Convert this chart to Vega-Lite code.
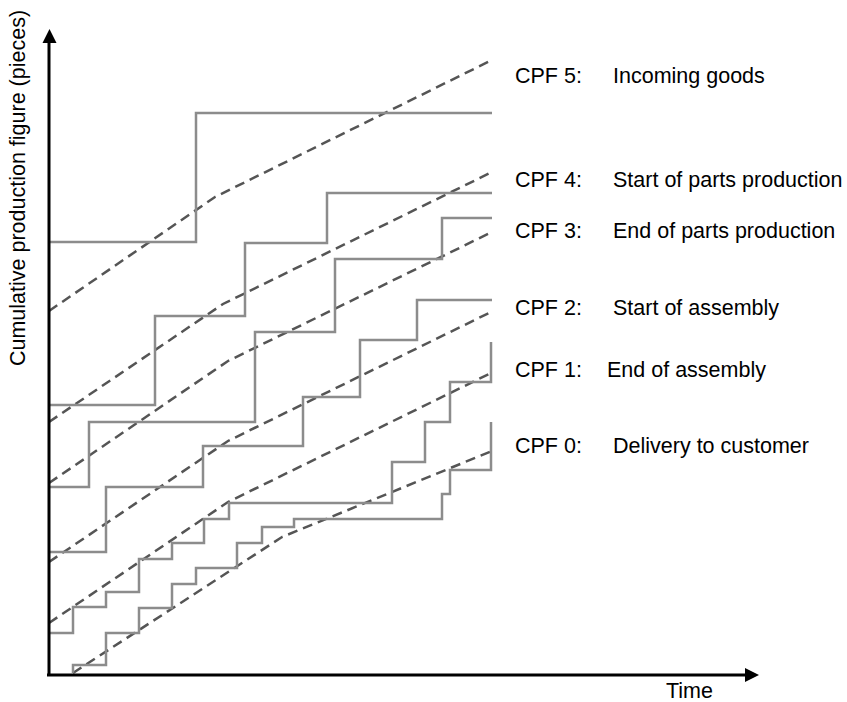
{
  "$schema": "https://vega.github.io/schema/vega-lite/v6.json",
  "width": 847,
  "height": 702,
  "autosize": {"type": "none"},
  "padding": 0,
  "background": "white",
  "config": {"view": {"stroke": null}},
  "datasets": {
    "steps": [
      {"series": "CPF5", "t": 0, "q": 433}, {"series": "CPF5", "t": 147, "q": 562}, {"series": "CPF5", "t": 443, "q": 562},
      {"series": "CPF4", "t": 0, "q": 270}, {"series": "CPF4", "t": 106, "q": 359}, {"series": "CPF4", "t": 196, "q": 432}, {"series": "CPF4", "t": 278, "q": 482}, {"series": "CPF4", "t": 443, "q": 482},
      {"series": "CPF3", "t": 0, "q": 188}, {"series": "CPF3", "t": 40, "q": 253}, {"series": "CPF3", "t": 206, "q": 343}, {"series": "CPF3", "t": 286, "q": 416}, {"series": "CPF3", "t": 393, "q": 457}, {"series": "CPF3", "t": 443, "q": 457},
      {"series": "CPF2", "t": 0, "q": 123}, {"series": "CPF2", "t": 57, "q": 188}, {"series": "CPF2", "t": 154, "q": 229}, {"series": "CPF2", "t": 254, "q": 278}, {"series": "CPF2", "t": 311, "q": 335}, {"series": "CPF2", "t": 368, "q": 375}, {"series": "CPF2", "t": 443, "q": 375},
      {"series": "CPF1", "t": 0, "q": 42}, {"series": "CPF1", "t": 24, "q": 68}, {"series": "CPF1", "t": 57, "q": 83}, {"series": "CPF1", "t": 90, "q": 116}, {"series": "CPF1", "t": 123, "q": 132}, {"series": "CPF1", "t": 155, "q": 156}, {"series": "CPF1", "t": 180, "q": 172}, {"series": "CPF1", "t": 343, "q": 213}, {"series": "CPF1", "t": 376, "q": 253}, {"series": "CPF1", "t": 401, "q": 293}, {"series": "CPF1", "t": 442, "q": 333},
      {"series": "CPF0", "t": 24, "q": 2}, {"series": "CPF0", "t": 24, "q": 10}, {"series": "CPF0", "t": 57, "q": 42}, {"series": "CPF0", "t": 90, "q": 67}, {"series": "CPF0", "t": 123, "q": 91}, {"series": "CPF0", "t": 147, "q": 107}, {"series": "CPF0", "t": 188, "q": 132}, {"series": "CPF0", "t": 213, "q": 148}, {"series": "CPF0", "t": 245, "q": 156}, {"series": "CPF0", "t": 393, "q": 181}, {"series": "CPF0", "t": 401, "q": 205}, {"series": "CPF0", "t": 442, "q": 253}
    ],
    "plan": [
      {"series": "CPF5", "t": 0, "q": 364}, {"series": "CPF5", "t": 166, "q": 478}, {"series": "CPF5", "t": 443, "q": 615},
      {"series": "CPF4", "t": 0, "q": 253}, {"series": "CPF4", "t": 174, "q": 371}, {"series": "CPF4", "t": 443, "q": 503},
      {"series": "CPF3", "t": 0, "q": 192}, {"series": "CPF3", "t": 179, "q": 314}, {"series": "CPF3", "t": 443, "q": 443},
      {"series": "CPF2", "t": 0, "q": 113}, {"series": "CPF2", "t": 179, "q": 234}, {"series": "CPF2", "t": 442, "q": 363},
      {"series": "CPF1", "t": 0, "q": 52}, {"series": "CPF1", "t": 179, "q": 173}, {"series": "CPF1", "t": 442, "q": 302},
      {"series": "CPF0", "t": 24, "q": 2}, {"series": "CPF0", "t": 233, "q": 138}, {"series": "CPF0", "t": 443, "q": 224}
    ],
    "labels": [
      {"code": "CPF 5:", "desc": "Incoming goods", "t": 466, "td": 564, "q": 592},
      {"code": "CPF 4:", "desc": "Start of parts production", "t": 466, "td": 564, "q": 488},
      {"code": "CPF 3:", "desc": "End of parts production", "t": 466, "td": 564, "q": 437},
      {"code": "CPF 2:", "desc": "Start of assembly", "t": 466, "td": 564, "q": 360},
      {"code": "CPF 1:", "desc": "End of assembly", "t": 466, "td": 558, "q": 298},
      {"code": "CPF 0:", "desc": "Delivery to customer", "t": 466, "td": 564, "q": 222}
    ],
    "axes": [
      {"axis": "y", "t": 0, "q": 0}, {"axis": "y", "t": 0, "q": 635},
      {"axis": "x", "t": -2, "q": 0}, {"axis": "x", "t": 700, "q": 0}
    ],
    "arrows": [
      {"dir": "up", "t": 0.5, "q": 639},
      {"dir": "right", "t": 703, "q": 0}
    ],
    "titles": [
      {"text": "Time", "t": 617, "q": -23, "angle": 0, "align": "left"},
      {"text": "Cumulative production figure (pieces)", "t": -24, "q": 487, "angle": 270, "align": "center"}
    ]
  },
  "encoding": {
    "x": {"field": "t", "type": "quantitative", "scale": {"domain": [-49, 798], "nice": false, "zero": false}, "axis": null},
    "y": {"field": "q", "type": "quantitative", "scale": {"domain": [-27, 675], "nice": false, "zero": false}, "axis": null}
  },
  "layer": [
    {
      "data": {"name": "plan"},
      "mark": {"type": "line", "color": "#555555", "strokeWidth": 2.5, "strokeDash": [10, 6], "clip": false},
      "encoding": {"detail": {"field": "series"}, "order": {"field": "t", "type": "quantitative"}}
    },
    {
      "data": {"name": "steps"},
      "mark": {"type": "line", "interpolate": "step-after", "color": "#8c8c8c", "strokeWidth": 2.5, "clip": false},
      "encoding": {"detail": {"field": "series"}, "order": {"field": "t", "type": "quantitative"}}
    },
    {
      "data": {"name": "axes"},
      "mark": {"type": "line", "color": "#000000", "strokeWidth": 3, "clip": false},
      "encoding": {"detail": {"field": "axis"}}
    },
    {
      "data": {"name": "arrows"},
      "mark": {"type": "point", "filled": true, "color": "#000000", "opacity": 1, "size": 196, "strokeWidth": 0},
      "encoding": {
        "shape": {"field": "dir", "type": "nominal", "scale": {"domain": ["up", "right"], "range": ["M0,-1L-1,1L1,1Z", "M1,0L-1,-1L-1,1Z"]}, "legend": null}
      }
    },
    {
      "data": {"name": "labels"},
      "mark": {"type": "text", "align": "left", "baseline": "alphabetic", "font": "Liberation Sans", "fontSize": 21.5, "color": "#000000"},
      "encoding": {"text": {"field": "code"}}
    },
    {
      "data": {"name": "labels"},
      "mark": {"type": "text", "align": "left", "baseline": "alphabetic", "font": "Liberation Sans", "fontSize": 21.5, "color": "#000000"},
      "encoding": {"x": {"field": "td", "type": "quantitative"}, "text": {"field": "desc"}}
    },
    {
      "data": {"name": "titles"},
      "transform": [{"filter": "datum.angle == 0"}],
      "mark": {"type": "text", "align": "left", "baseline": "alphabetic", "font": "Liberation Sans", "fontSize": 21.5, "color": "#000000"},
      "encoding": {"text": {"field": "text"}}
    },
    {
      "data": {"name": "titles"},
      "transform": [{"filter": "datum.angle == 270"}],
      "mark": {"type": "text", "align": "center", "baseline": "alphabetic", "angle": 270, "font": "Liberation Sans", "fontSize": 21.5, "color": "#000000"},
      "encoding": {"text": {"field": "text"}}
    }
  ]
}
